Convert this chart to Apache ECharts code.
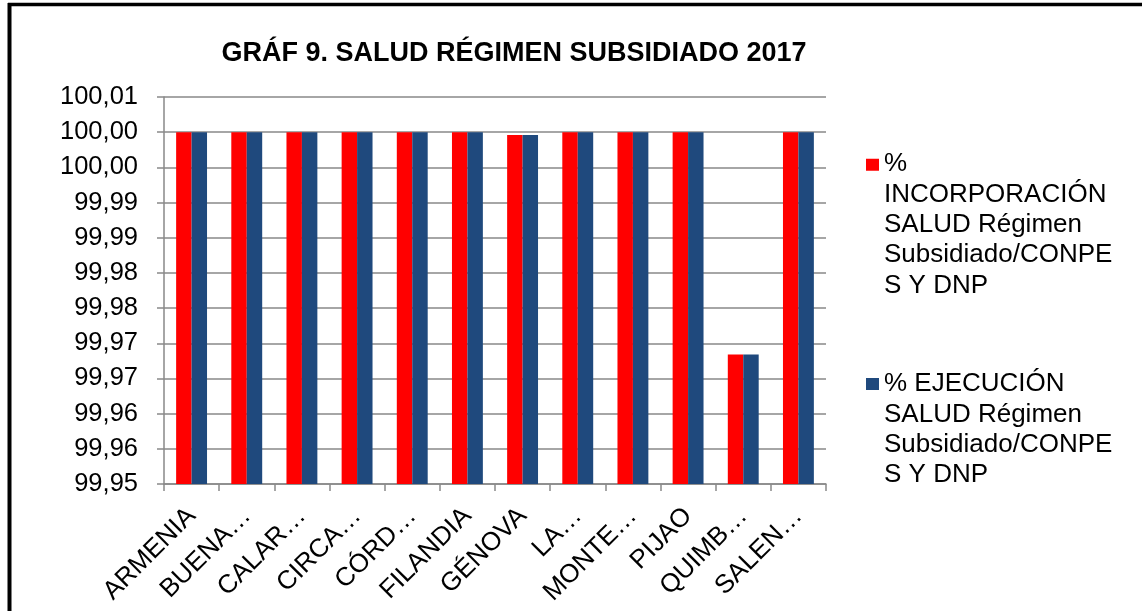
<!DOCTYPE html>
<html>
<head>
<meta charset="utf-8">
<script src="https://cdn.jsdelivr.net/npm/echarts@6/dist/echarts.min.js"></script>
<style>
html, body { margin: 0; padding: 0; background: #fff; }
#main { width: 1142px; height: 611px; }
</style>
</head>
<body>
<div id="main"></div>
<script>
// datos del gráfico
var municipios = ['ARMENIA', 'BUENA…', 'CALAR…', 'CIRCA…', 'CÓRD…', 'FILANDIA', 'GÉNOVA', 'LA…', 'MONTE…', 'PIJAO', 'QUIMB…', 'SALEN…'];
var incorporacion = [100, 100, 100, 100, 100, 100, 99.9996, 100, 100, 100, 99.9684, 100];
var ejecucion = [100, 100, 100, 100, 100, 100, 99.9996, 100, 100, 100, 99.9684, 100];
var nombresSeries = [
    '% INCORPORACIÓN SALUD Régimen Subsidiado/CONPES Y DNP',
    '% EJECUCIÓN SALUD Régimen Subsidiado/CONPES Y DNP'
];
var leyendaTextos = [
    '%\nINCORPORACIÓN\nSALUD Régimen\nSubsidiado/CONPE\nS Y DNP',
    '% EJECUCIÓN\nSALUD Régimen\nSubsidiado/CONPE\nS Y DNP'
];
var yTicks = ['99,95', '99,96', '99,96', '99,97', '99,97', '99,98', '99,98', '99,99', '99,99', '100,00', '100,00', '100,01'];
var yMin = 99.95, yMax = 100.005, yPaso = 0.005;

var fuente = 'Arial, "Liberation Sans", sans-serif';
var gris = '#898989';

function etiquetaLeyenda(name) {
    return leyendaTextos[nombresSeries.indexOf(name)];
}

// icono alto: cuadrado arriba, caja del alto del texto
function iconoAlto(h) {
    return 'path://M0,9h13v12h-13Z M0,0l0.01,0l0,0.01Z M0,' + h + 'l0.01,0l0,0.01Z';
}

var myChart = echarts.init(document.getElementById('main'));
var option = {
    backgroundColor: '#fff',
    animation: false,
    title: {
        text: 'GRÁF 9. SALUD RÉGIMEN SUBSIDIADO 2017',
        left: 509,
        top: 35,
        textAlign: 'center',
        textStyle: { fontFamily: fuente, fontSize: 27, fontWeight: 'bold', color: '#000' }
    },
    legend: [
        {
            data: [nombresSeries[0]],
            orient: 'vertical',
            left: 866,
            top: 149,
            padding: 0,
            itemWidth: 13,
            itemHeight: 150,
            icon: iconoAlto(150),
            formatter: etiquetaLeyenda,
            textStyle: { fontFamily: fuente, fontSize: 26, lineHeight: 30.3, color: '#000' }
        },
        {
            data: [nombresSeries[1]],
            orient: 'vertical',
            left: 866,
            top: 369,
            padding: 0,
            itemWidth: 13,
            itemHeight: 121,
            icon: iconoAlto(121),
            formatter: etiquetaLeyenda,
            textStyle: { fontFamily: fuente, fontSize: 26, lineHeight: 30.3, color: '#000' }
        }
    ],
    grid: { left: 164, right: 316, top: 97, bottom: 127 },
    xAxis: {
        type: 'category',
        data: municipios,
        axisLine: { lineStyle: { color: gris, width: 1.5 } },
        axisTick: { show: true, length: 7, lineStyle: { color: gris, width: 1.5 } },
        axisLabel: {
            interval: 0,
            rotate: 45,
            margin: 28,
            fontFamily: fuente,
            fontSize: 26,
            color: '#000'
        }
    },
    yAxis: {
        type: 'value',
        min: yMin,
        max: yMax,
        interval: yPaso,
        axisLine: { show: true, lineStyle: { color: gris, width: 1.5 } },
        axisTick: { show: true, length: 7, lineStyle: { color: gris, width: 1.5 } },
        splitLine: { show: true, lineStyle: { color: gris, width: 1.5 } },
        axisLabel: {
            margin: 26,
            fontFamily: fuente,
            fontSize: 25.5,
            color: '#000',
            formatter: function (v) {
                return yTicks[Math.round((v - yMin) / yPaso)];
            }
        }
    },
    series: [
        {
            name: nombresSeries[0],
            type: 'bar',
            data: incorporacion,
            barGap: '0%',
            barCategoryGap: '44%',
            itemStyle: { color: '#FF0000' }
        },
        {
            name: nombresSeries[1],
            type: 'bar',
            data: ejecucion,
            barGap: '0%',
            barCategoryGap: '44%',
            itemStyle: { color: '#1F497D' }
        }
    ],
    graphic: [
        { type: 'line', shape: { x1: 9.5, y1: 3, x2: 9.5, y2: 611 }, style: { stroke: '#000', lineWidth: 4 } },
        { type: 'line', shape: { x1: 8, y1: 4.5, x2: 1142, y2: 4.5 }, style: { stroke: '#000', lineWidth: 3.5 } }
    ]
};
myChart.setOption(option);
</script>
</body>
</html>
